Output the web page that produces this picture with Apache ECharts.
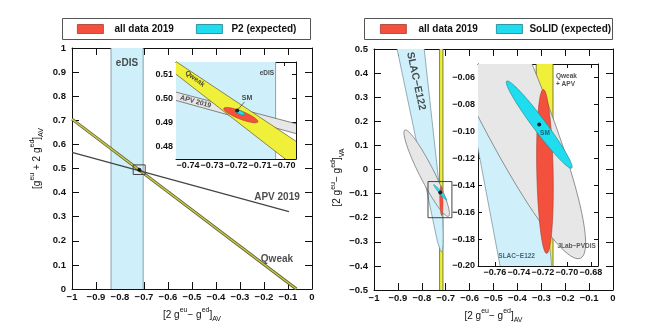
<!DOCTYPE html>
<html><head><meta charset="utf-8">
<script src="https://cdn.jsdelivr.net/npm/echarts@6/dist/echarts.min.js"></script>
<style>html,body{margin:0;padding:0;background:#fff}#c{width:650px;height:335px}</style>
</head><body><div id="c"></div>
<script>
// ---------------- data ----------------
const mainXRange = [-1, 0];
const leftYRange = [0, 1];
const rightYRange = [-0.5, 0.5];
const leftInsetXRange = [-0.745, -0.695];
const leftInsetYRange = [0.475, 0.515];
const rightInsetXRange = [-0.774, -0.674];
const rightInsetYRange = [-0.2, -0.05];
const leftInsetXTicks = [-0.74, -0.73, -0.72, -0.71, -0.70];
const leftInsetYTicks = [0.48, 0.49, 0.50, 0.51];
const rightInsetXTicks = [-0.76, -0.74, -0.72, -0.70, -0.68];
const rightInsetYTicks = [-0.20, -0.18, -0.16, -0.14, -0.12, -0.10, -0.08, -0.06];

// left panel
const eDISRange = [-0.8375, -0.7035];
const qweakLine = [[-1, 0.705], [-0.065, 0]];
const apvLine = [[-1, 0.567], [-0.096, 0.321]];
const qweakBandInset = [[-0.747, 0.5165], [-0.693, 0.481], [-0.693, 0.470], [-0.747, 0.5115]];
const apvBandInset = [[-0.747, 0.5031], [-0.694, 0.4893], [-0.694, 0.4852], [-0.747, 0.4997]];
// ellipses: centre x, centre y, semi-axis u (x,y), conjugate semi-axis v (x,y)
const allData2019Left = [-0.718, 0.4931, 0.00708, -0.00276, -0.00061, -0.00153];
const p2Expected = [-0.7183, 0.4942, 0.0019, -0.00076, -0.00028, -0.00069];
const smLeft = [-0.7195, 0.4950];
const smPointerLeft = [[-0.7165, 0.4985], [-0.7192, 0.4954]];

// right panel
const qweakApvRange = [-0.7255, -0.7115];
const slacE122 = [[-0.9244, 0.6], [-0.801, 0.6], [-0.7126, -0.2], [-0.7108, -0.27], [-0.7112, -0.31],
                  [-0.7135, -0.335], [-0.717, -0.343], [-0.722, -0.336], [-0.7345, -0.30]];
const jlabPVDIS = [-0.7795, -0.0153, -0.0889, 0.1793, 0.034, 0];
const allData2019Right = [-0.7182, -0.1298, -0.0014, 0.0609, 0.0068, 0];
const solidExpected = [-0.723, -0.095, -0.0271, 0.0323, 0.0043, 0.0029];
const smRight = [-0.723, -0.095];

// annotations: text, x, y
const leftMainNotes = [['eDIS', -0.771, 0.938], ['APV 2019', -0.146, 0.382], ['Qweak', -0.146, 0.124]];
const leftInsetNotes = [['eDIS', -0.7071, 0.5102], ['Qweak', -0.7371, 0.5081], ['APV 2019', -0.7368, 0.4986], ['SM', -0.7154, 0.5002]];
const rightMainNotes = [['SLAC\u2212E122', -0.824, 0.367]];
const rightInsetNotes = [['Qweak\n+ APV', -0.709, -0.0622], ['SM', -0.7182, -0.1011], ['SLAC\u2212E122', -0.7418, -0.1929], ['JLab\u2212PVDIS', -0.6918, -0.1852]];

// ---------------- helpers ----------------
const FONT = 'Liberation Sans';
const RED = '#f4503e', RED_B = '#a8382a';
const CYAN = '#1fdcee', CYAN_B = '#167f8c';
const LBLUE = '#cff0fa', LBLUE_B = '#6d8c98';
const YEL = '#f0f03a', YEL_B = '#5a5a30';
const GRAY = '#e7e7e7', GRAY_B = '#666';

function ellipsePts(e) {
  const [cx, cy, ux, uy, vx, vy] = e, pts = [], n = 120;
  for (let i = 0; i < n; i++) {
    const t = 2 * Math.PI * i / n;
    pts.push([cx + ux * Math.cos(t) + vx * Math.sin(t), cy + uy * Math.cos(t) + vy * Math.sin(t)]);
  }
  return pts;
}
function vBand(r) { return [[r[0], -5], [r[1], -5], [r[1], 5], [r[0], 5]]; }
function boxPts(xr, yr) { return [[xr[0], yr[0]], [xr[1], yr[0]], [xr[1], yr[1]], [xr[0], yr[1]], [xr[0], yr[0]]]; }

function shape(name, g, pts, st, z) {
  return {
    name: name, type: 'custom', coordinateSystem: 'cartesian2d', xAxisIndex: 2 * g, yAxisIndex: 2 * g,
    z: z, clip: true, silent: true, animation: false,
    itemStyle: { color: st.fill || '#000' },
    data: [pts[0]],
    renderItem: function (params, api) {
      const points = pts.map(p => api.coord(p));
      const cs = params.coordSys;
      return {
        type: 'group',
        clipPath: { type: 'rect', shape: { x: cs.x, y: cs.y, width: cs.width, height: cs.height } },
        children: [{
          type: st.open ? 'polyline' : 'polygon', shape: { points: points },
          style: { fill: st.open ? null : (st.fill || null), stroke: st.stroke || null, lineWidth: st.lw || 1 }
        }]
      };
    }
  };
}
function line(g, data, color, width, z) {
  return { type: 'line', xAxisIndex: 2 * g, yAxisIndex: 2 * g, data: data, symbol: 'none', z: z,
    lineStyle: { color: color, width: width }, silent: true, animation: false, clip: true };
}
function dot(g, p, z) {
  return { type: 'scatter', xAxisIndex: 2 * g, yAxisIndex: 2 * g, data: [p], symbol: 'circle', symbolSize: 4,
    itemStyle: { color: '#000' }, z: z, silent: true, animation: false };
}
function notes(g, list, styles, z) {
  return {
    type: 'scatter', xAxisIndex: 2 * g, yAxisIndex: 2 * g, symbolSize: 0, z: z, silent: true, animation: false,
    data: list.map((n, i) => ({
      value: [n[1], n[2]],
      label: Object.assign({ show: true, formatter: n[0], position: [0, 0], align: 'center', verticalAlign: 'middle',
        fontFamily: FONT, fontWeight: 'bold', color: '#222', fontSize: 7 }, styles[i] || {})
    }))
  };
}
const fmt1 = v => (Math.round(v * 10) / 10).toString().replace('-', '\u2212');
const fmt2 = v => v.toFixed(2).replace('-', '\u2212');

const tickLbl = { fontFamily: FONT, fontWeight: 'bold', color: '#111' };
const richName = {
  fontFamily: FONT, fontSize: 10, color: '#111', lineHeight: 16,
  rich: {
    sup: { fontFamily: FONT, fontSize: 7, color: '#111', verticalAlign: 'top', lineHeight: 9 },
    sub: { fontFamily: FONT, fontSize: 7, color: '#111', verticalAlign: 'bottom', lineHeight: 9 }
  }
};
function axisPair(dim, g, range, o) {
  const isX = dim === 'x';
  const common = () => {
    const a = {
      type: 'value', gridIndex: g, min: range[0], max: range[1], splitLine: { show: false },
      axisLine: { show: true, onZero: false, lineStyle: { color: '#111', width: 1 } },
      axisTick: { show: true, inside: true, length: o.tick, lineStyle: { color: '#111', width: 1 } }
    };
    if (o.interval) a.interval = o.interval;
    if (o.custom) a.axisTick.customValues = o.custom;
    return a;
  };
  const main = Object.assign(common(), {
    position: isX ? 'bottom' : 'left',
    axisLabel: Object.assign({ show: true, margin: o.margin, formatter: o.fmt, fontSize: o.fs }, tickLbl)
  });
  if (o.custom) main.axisLabel.customValues = o.custom;
  if (o.name) {
    main.name = o.name; main.nameLocation = 'middle'; main.nameGap = o.nameGap;
    main.nameTextStyle = Object.assign({}, richName, { padding: o.namePad || 0 });
  }
  const mirror = Object.assign(common(), { position: isX ? 'top' : 'right', axisLabel: { show: false } });
  return [main, mirror];
}

const xName = '[2 g{sup|eu}\u2212 g{sup|ed}]{sub|AV}';
const xAxes = [].concat(
  axisPair('x', 0, mainXRange, { tick: 7, interval: 0.1, margin: 3, fmt: fmt1, fs: 9.5, name: xName, nameGap: 15 }),
  axisPair('x', 1, leftInsetXRange, { tick: 4, custom: leftInsetXTicks, margin: 2, fmt: fmt2, fs: 9 }),
  axisPair('x', 2, mainXRange, { tick: 7, interval: 0.1, margin: 3, fmt: fmt1, fs: 9.5, name: xName, nameGap: 15 }),
  axisPair('x', 3, rightInsetXRange, { tick: 4, custom: rightInsetXTicks, margin: 2, fmt: fmt2, fs: 9 })
);
const yAxes = [].concat(
  axisPair('y', 0, leftYRange, { tick: 7, interval: 0.1, margin: 6, fmt: fmt1, fs: 9.5,
    name: '[g{sup|eu} + 2 g{sup|ed}]{sub|AV}', nameGap: 27, namePad: [0, 0, 0, 20] }),
  axisPair('y', 1, leftInsetYRange, { tick: 4, custom: leftInsetYTicks, margin: 3, fmt: fmt2, fs: 9 }),
  axisPair('y', 2, rightYRange, { tick: 7, interval: 0.1, margin: 6, fmt: fmt1, fs: 9.5,
    name: '[2 g{sup|eu}\u2212 g{sup|ed}]{sub|VA}', nameGap: 27, namePad: [0, 16, 0, 0] }),
  axisPair('y', 3, rightInsetYRange, { tick: 4, custom: rightInsetYTicks, margin: 3, fmt: fmt2, fs: 9 })
);

const series = [
  // ---- left main (grid 0)
  shape('eDIS', 0, vBand(eDISRange), { fill: LBLUE, stroke: LBLUE_B, lw: 0.8 }, 1),
  line(0, qweakLine, '#5d5d34', 3, 3),
  line(0, qweakLine, '#c9c94a', 1.4, 3),
  line(0, apvLine, '#444', 1.1, 3),
  shape('all data 2019', 0, ellipsePts(allData2019Left), { fill: RED, stroke: RED_B, lw: 0.4 }, 4),
  shape('P2 (expected)', 0, ellipsePts(p2Expected), { fill: CYAN, stroke: CYAN_B, lw: 0.3 }, 5),
  dot(0, smLeft, 6),
  shape('box', 0, boxPts(leftInsetXRange, leftInsetYRange), { open: true, stroke: '#444', lw: 1 }, 7),
  notes(0, leftMainNotes, [{ fontSize: 10 }, { fontSize: 10 }, { fontSize: 10 }], 8),
  // ---- left inset (grid 1)
  shape('eDIS', 1, vBand(eDISRange), { fill: LBLUE, stroke: LBLUE_B, lw: 0.8 }, 1),
  shape('APV band', 1, apvBandInset, { fill: GRAY, stroke: '#555', lw: 0.7 }, 2),
  shape('Qweak band', 1, qweakBandInset, { fill: YEL, stroke: YEL_B, lw: 0.7 }, 3),
  shape('all data 2019', 1, ellipsePts(allData2019Left), { fill: RED, stroke: RED_B, lw: 0.6 }, 4),
  shape('P2 (expected)', 1, ellipsePts(p2Expected), { fill: CYAN, stroke: CYAN_B, lw: 0.5 }, 5),
  line(1, smPointerLeft, '#333', 0.7, 6),
  dot(1, smLeft, 6),
  notes(1, leftInsetNotes, [{ fontSize: 6.5 }, { rotate: -36, fontSize: 7 }, { rotate: -15, fontSize: 7 }, { fontSize: 7 }], 8),
  // ---- right main (grid 2)
  shape('Qweak + APV', 2, vBand(qweakApvRange), { fill: YEL, stroke: YEL_B, lw: 0.8 }, 1),
  shape('SLAC-E122', 2, slacE122, { fill: LBLUE, stroke: LBLUE_B, lw: 0.7 }, 2),
  shape('JLab-PVDIS', 2, ellipsePts(jlabPVDIS), { fill: GRAY, stroke: GRAY_B, lw: 0.7 }, 3),
  shape('all data 2019', 2, ellipsePts(allData2019Right), { fill: RED, stroke: RED_B, lw: 0.4 }, 4),
  shape('SoLID (expected)', 2, ellipsePts(solidExpected), { fill: CYAN, stroke: CYAN_B, lw: 0.4 }, 5),
  dot(2, smRight, 6),
  shape('box', 2, boxPts(rightInsetXRange, rightInsetYRange), { open: true, stroke: '#444', lw: 1 }, 7),
  notes(2, rightMainNotes, [{ rotate: -78, fontSize: 10.5 }], 8),
  // ---- right inset (grid 3)
  shape('Qweak + APV', 3, vBand(qweakApvRange), { fill: YEL, stroke: YEL_B, lw: 0.8 }, 1),
  shape('SLAC-E122', 3, slacE122, { fill: LBLUE, stroke: LBLUE_B, lw: 0.7 }, 2),
  shape('JLab-PVDIS', 3, ellipsePts(jlabPVDIS), { fill: GRAY, stroke: GRAY_B, lw: 0.7 }, 3),
  shape('all data 2019', 3, ellipsePts(allData2019Right), { fill: RED, stroke: RED_B, lw: 0.6 }, 4),
  shape('SoLID (expected)', 3, ellipsePts(solidExpected), { fill: CYAN, stroke: CYAN_B, lw: 0.6 }, 5),
  dot(3, smRight, 6),
  notes(3, rightInsetNotes, [{ align: 'left', fontSize: 6.5, lineHeight: 8 }, { fontSize: 6.5, color: '#0d4f5e' }, { fontSize: 6.5, color: '#1b3f55' }, { fontSize: 6.5, color: '#333' }], 8)
];

function legendItem(name, left, color, border, textPad) {
  return {
    left: left, top: 24, orient: 'horizontal', padding: 0, itemWidth: 26, itemHeight: 9, selectedMode: false,
    data: [{ name: name, icon: 'rect', itemStyle: { color: color, borderColor: border, borderWidth: 0.8 } }],
    textStyle: { fontFamily: FONT, fontWeight: 'bold', fontSize: 10, color: '#111', padding: [0, 0, 0, textPad] }
  };
}

const option = {
  animation: false,
  backgroundColor: '#fff',
  grid: [
    { left: 72, top: 48, width: 240, height: 241, outerBoundsMode: 'none' },
    { left: 176, top: 62, width: 120, height: 97, outerBoundsMode: 'none', show: true, backgroundColor: '#fff', borderWidth: 0 },
    { left: 374, top: 49, width: 239, height: 241, outerBoundsMode: 'none' },
    { left: 478, top: 64, width: 120, height: 202, outerBoundsMode: 'none', show: true, backgroundColor: '#fff', borderWidth: 0 }
  ],
  xAxis: xAxes,
  yAxis: yAxes,
  legend: [
    legendItem('all data 2019', 77, RED, RED_B, 6),
    legendItem('P2 (expected)', 196, CYAN, CYAN_B, 4),
    legendItem('all data 2019', 380, RED, RED_B, 7),
    legendItem('SoLID (expected)', 496, CYAN, CYAN_B, 2)
  ],
  graphic: [
    { type: 'rect', shape: { x: 62.5, y: 18.5, width: 248, height: 21 }, style: { fill: null, stroke: '#555', lineWidth: 1 } },
    { type: 'rect', shape: { x: 364.5, y: 18.5, width: 248, height: 21 }, style: { fill: null, stroke: '#555', lineWidth: 1 } }
  ],
  series: series
};

const chart = echarts.init(document.getElementById('c'), null, { renderer: 'canvas', width: 650, height: 335 });
chart.setOption(option);
</script>
</body></html>
